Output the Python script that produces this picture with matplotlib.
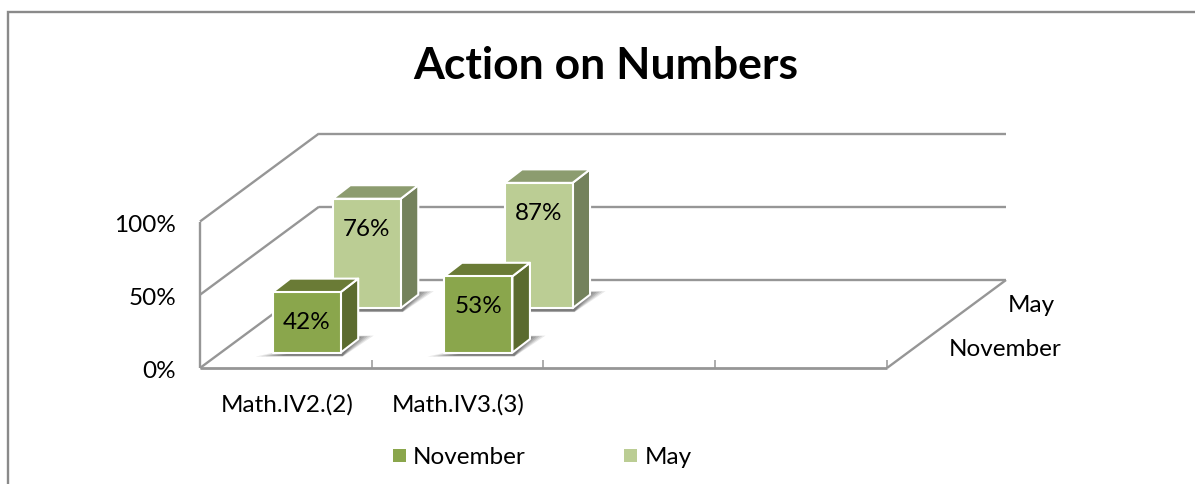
import matplotlib
matplotlib.use("Agg")
import matplotlib.pyplot as plt
from matplotlib.patches import Polygon, Rectangle

categories = ["Math.IV2.(2)", "Math.IV3.(3)", "", ""]
series_names = ["November", "May"]
november = [42, 53]
may = [76, 87]
y_ticks = [0, 50, 100]

plt.rcParams["font.family"] = ["Lato", "DejaVu Sans"]
W, H = 1195, 484
fig = plt.figure(figsize=(W / 100, H / 100), dpi=100)
ax = fig.add_axes([0, 0, 1, 1])
ax.set_xlim(0, W)
ax.set_ylim(H, 0)
ax.axis("off")

# oblique projection of the 3-D chart: x category units, y percent, z depth 0..1
X0, Y0, CAT_W, GRID_H, BAR_H, DX, DY = 200, 368, 171.75, 1.465, 1.44, 119, 88

def proj(x, z, v=0, scale=GRID_H):
    return (X0 + x * CAT_W + z * DX, Y0 - z * DY - v * scale)

GREY = "#969696"
lw = 1.7
def line(p, q, lw=lw, c=GREY, zo=1):
    ax.plot([p[0], q[0]], [p[1], q[1]], color=c, lw=lw, solid_capstyle="butt", zorder=zo)

# outer frame
ax.plot([8.5, 8.5, W], [H, 12, 12], color="#8a8a8a", lw=1.7, solid_joinstyle="miter", zorder=1)

# walls and gridlines
n = len(categories)
for v in y_ticks:
    line(proj(0, 0, v), proj(0, 1, v))
    line(proj(0, 1, v), proj(n, 1, v))
line(proj(0, 0, 0), proj(0, 0, 100))
line(proj(0, 0, 0), proj(n, 0, 0), lw=2.0)
line(proj(n, 0, 0), proj(n, 1, 0))
for i in range(n + 1):
    p = proj(i, 0, 0)
    line((p[0], p[1]), (p[0], p[1] - 8), lw=1.1)

# bars
BAR_W, D_X, D_Y = 68 / CAT_W, 17.5, 13.5
STYLES = {
    "November": dict(front="#8aa64c", top="#6a7b36", side="#5b6b2f", z=0.175),
    "May": dict(front="#bbcd94", top="#8c9c6f", side="#74825c", z=0.68),
}

def bar(i, val, s, zo):
    x0 = i + (1 - BAR_W) / 2
    xl, yb = proj(x0, s["z"])
    xr = xl + BAR_W * CAT_W
    yt = yb - val * BAR_H
    # soft shadow on the floor: stacked layers that shrink toward the bar
    for k, a in enumerate([0.12, 0.15, 0.18, 0.2, 0.22, 0.25]):
        ax.add_patch(Polygon([(xl - 17 + 5 * k, yb + 4 - 0.2 * k), (xr + 2, yb + 4 - 0.2 * k),
                              (xr + 33 - 3 * k, yb - 17 + 0.3 * k), (xr + 8, yb - 17 + 0.3 * k)],
                             closed=True, fc="#4a4a4a", ec="none", alpha=a, zorder=zo - 0.5))
    edge = dict(ec="white", lw=1.5, joinstyle="round", zorder=zo)
    ax.add_patch(Polygon([(xr, yb), (xr + D_X, yb - D_Y), (xr + D_X, yt - D_Y), (xr, yt)],
                         closed=True, fc=s["side"], **edge))
    ax.add_patch(Polygon([(xl, yt), (xr, yt), (xr + D_X, yt - D_Y), (xl + D_X, yt - D_Y)],
                         closed=True, fc=s["top"], **edge))
    ax.add_patch(Rectangle((xl, yt), xr - xl, yb - yt, fc=s["front"], **edge))
    ax.text((xl + xr) / 2, yt + 30.5, f"{val}%", ha="center", va="center",
            fontsize=17.5, color="black", zorder=zo + 1)

for i, val in enumerate(may):
    bar(i, val, STYLES["May"], 3)
for i, val in enumerate(november):
    bar(i, val, STYLES["November"], 5)

# text
ax.text(606, 66, "Action on Numbers", ha="center", va="center", fontsize=32, fontweight="bold", color="black")
for v in y_ticks:
    ax.text(176, proj(0, 0, v)[1] + 4, f"{v}%", ha="right", va="center", fontsize=17.5)
for i, c in enumerate(categories):
    if c:
        ax.text(proj(i + 0.5, 0)[0] + 1, 405, c, ha="center", va="center", fontsize=17.5)
ax.text(1031, 305, series_names[1], ha="center", va="center", fontsize=17.5)
ax.text(1005, 349, series_names[0], ha="center", va="center", fontsize=17.5)

# legend
for sx, name, tx in [(393, "November", 413), (624, "May", 645)]:
    s = STYLES[name]
    ax.add_patch(Rectangle((sx, 449), 13, 13, fc=s["front"], ec="none"))
    ax.text(tx, 457, name, ha="left", va="center", fontsize=17.5)

fig.savefig("out.png", dpi=100, facecolor="white")
